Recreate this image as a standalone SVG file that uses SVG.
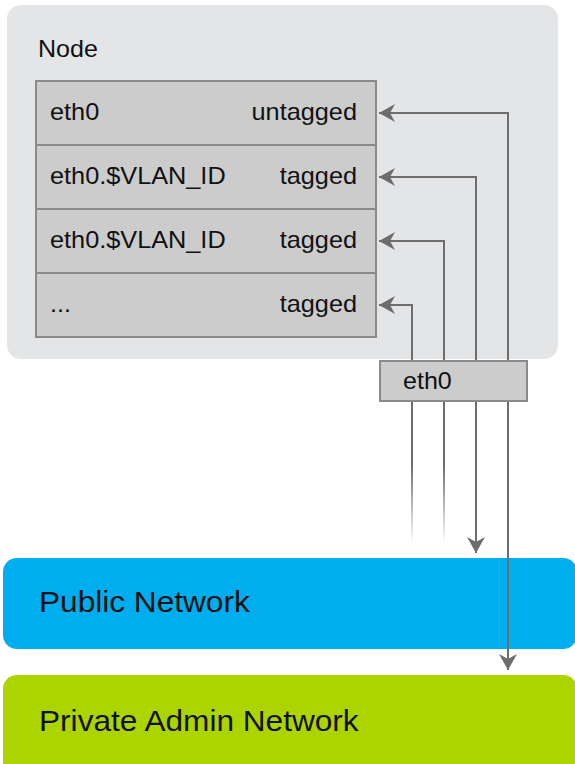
<svg xmlns="http://www.w3.org/2000/svg" width="575" height="764" viewBox="0 0 575 764">
<style>
.row{fill:#cccccc;stroke:#8a8a8a;stroke-width:2}
.t{font-family:"Liberation Sans",Arial,sans-serif;font-size:23px;fill:#111}
.big{font-family:"Liberation Sans",Arial,sans-serif;font-size:29px;fill:#111}
.c{fill:none;stroke:#6d6d6d;stroke-width:2}
</style>
<defs>
<marker id="ah" markerUnits="userSpaceOnUse" markerWidth="20" markerHeight="20" viewBox="0 -10 17 20" refX="16" refY="0" orient="auto">
<path d="M0,-9 L16,0 L0,9 L5,0 z" fill="#6d6d6d"/>
</marker>
<linearGradient id="fade" gradientUnits="userSpaceOnUse" x1="0" y1="401" x2="0" y2="543">
<stop offset="0.45" stop-color="#6d6d6d"/>
<stop offset="1" stop-color="#6d6d6d" stop-opacity="0"/>
</linearGradient>
</defs>
<g id="node">
<rect x="7" y="5" width="551" height="354" rx="14" fill="#e4e5e7"/>
<text class="t" transform="translate(38,57) scale(1.09,1)">Node</text>
</g>
<g id="row1"><rect class="row" x="36" y="81" width="340" height="64"/><text class="t" transform="translate(50,120) scale(1.1,1)">eth0</text><text class="t" transform="translate(357,120) scale(1.1,1)" text-anchor="end">untagged</text></g>
<g id="row2"><rect class="row" x="36" y="145" width="340" height="64"/><text class="t" transform="translate(50,184) scale(1.1,1)">eth0.$VLAN_ID</text><text class="t" transform="translate(357,184) scale(1.1,1)" text-anchor="end">tagged</text></g>
<g id="row3"><rect class="row" x="36" y="209" width="340" height="64"/><text class="t" transform="translate(50,248) scale(1.1,1)">eth0.$VLAN_ID</text><text class="t" transform="translate(357,248) scale(1.1,1)" text-anchor="end">tagged</text></g>
<g id="row4"><rect class="row" x="36" y="273" width="340" height="64"/><text class="t" transform="translate(50,312) scale(1.1,1)">...</text><text class="t" transform="translate(357,312) scale(1.1,1)" text-anchor="end">tagged</text></g>
<g id="public"><rect x="3" y="558" width="574" height="91" rx="14" fill="#00adee"/><text class="big" transform="translate(39,612) scale(1.09,1)">Public Network</text></g>
<g id="private"><rect x="3" y="675" width="574" height="120" rx="14" fill="#acd400"/><text class="big" transform="translate(39,731) scale(1.09,1)">Private Admin Network</text></g>
<g id="connectors">
<path class="c" d="M508,361 V113 H379" marker-end="url(#ah)"/>
<path class="c" d="M476,361 V177 H379" marker-end="url(#ah)"/>
<path class="c" d="M444,361 V241 H379" marker-end="url(#ah)"/>
<path class="c" d="M412,361 V305 H379" marker-end="url(#ah)"/>
<line x1="412" y1="400" x2="412" y2="543" stroke="url(#fade)" stroke-width="2"/>
<line x1="444" y1="400" x2="444" y2="543" stroke="url(#fade)" stroke-width="2"/>
<path class="c" d="M476,400 V553" marker-end="url(#ah)"/>
<path class="c" d="M508,400 V670" marker-end="url(#ah)"/>
</g>
<g id="eth0">
<rect x="380" y="361" width="147" height="40" fill="#cccccc" stroke="#8a8a8a" stroke-width="2"/>
<text class="t" transform="translate(403,389) scale(1.09,1)">eth0</text>
</g>
</svg>
